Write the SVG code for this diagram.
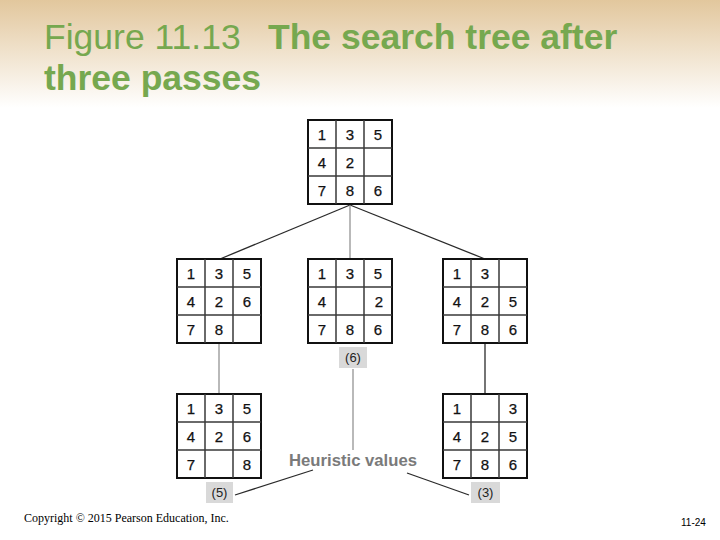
<svg xmlns="http://www.w3.org/2000/svg" width="720" height="540" viewBox="0 0 720 540">
  <defs>
    <linearGradient id="bg" x1="0" y1="0" x2="0" y2="540" gradientUnits="userSpaceOnUse">
      <stop offset="0" stop-color="#e2c79d"/>
      <stop offset="0.2" stop-color="#ffffff"/>
      <stop offset="1" stop-color="#ffffff"/>
    </linearGradient>
    <g id="grid">
      <rect x="0" y="0" width="84" height="84" fill="#ffffff" stroke="#111" stroke-width="2"/>
      <path d="M28 0V84M56 0V84M0 28H84M0 56H84" stroke="#3a3a3a" stroke-width="1.5" fill="none"/>
    </g>
  </defs>
  <style>
    .title { font-family: "Liberation Sans", Arial, sans-serif; font-size: 35.5px; fill: #76a84f; }
    .b { font-weight: bold; }
    .num { font-family: "Liberation Sans", Arial, sans-serif; font-size: 15px; fill: #111; text-anchor: middle; stroke: #111; stroke-width: 0.25; }
    .lbl { font-family: "Liberation Sans", Arial, sans-serif; font-size: 13px; fill: #222; text-anchor: middle; }
    .lblbox { fill: #d9d9d9; }
    .heur { font-family: "Liberation Sans", Arial, sans-serif; font-size: 16.7px; font-weight: bold; fill: #7a7a7a; }
    .copy { font-family: "Liberation Serif", "Times New Roman", serif; font-size: 12px; fill: #000; }
    .page { font-family: "Liberation Sans", Arial, sans-serif; font-size: 10px; fill: #000; }
    .dark { stroke: #2a2a2a; stroke-width: 1.3; fill: none; }
    .light { stroke: #8a8a8a; stroke-width: 1.2; fill: none; }
  </style>
  <rect x="0" y="0" width="720" height="540" fill="url(#bg)"/>

  <g id="title">
    <text class="title" x="44" y="49">Figure 11.13</text>
    <text class="title b" x="268" y="49">The search tree after</text>
    <text class="title b" x="44" y="90">three passes</text>
  </g>

  <g id="connectors">
    <line class="dark" x1="350" y1="205" x2="220" y2="259"/>
    <line class="dark" x1="350" y1="205" x2="485" y2="259"/>
    <line class="light" x1="350" y1="205" x2="350" y2="259"/>
    <line class="light" x1="219" y1="343" x2="219" y2="394"/>
    <line class="dark" x1="485" y1="343" x2="485" y2="394"/>
    <line class="light" x1="353" y1="369" x2="353" y2="450"/>
    <line class="dark" x1="235" y1="495" x2="313" y2="470"/>
    <line class="dark" x1="407" y1="473" x2="469" y2="495"/>
  </g>

  <g id="root" transform="translate(308,120)">
    <use href="#grid"/>
    <text class="num" x="14" y="19.5">1</text><text class="num" x="42" y="19.5">3</text><text class="num" x="70" y="19.5">5</text>
    <text class="num" x="14" y="47.5">4</text><text class="num" x="42" y="47.5">2</text>
    <text class="num" x="14" y="75.5">7</text><text class="num" x="42" y="75.5">8</text><text class="num" x="70" y="75.5">6</text>
  </g>

  <g id="mid-left" transform="translate(177,259)">
    <use href="#grid"/>
    <text class="num" x="14" y="19.5">1</text><text class="num" x="42" y="19.5">3</text><text class="num" x="70" y="19.5">5</text>
    <text class="num" x="14" y="47.5">4</text><text class="num" x="42" y="47.5">2</text><text class="num" x="70" y="47.5">6</text>
    <text class="num" x="14" y="75.5">7</text><text class="num" x="42" y="75.5">8</text>
  </g>

  <g id="mid-center" transform="translate(308,259)">
    <use href="#grid"/>
    <text class="num" x="14" y="19.5">1</text><text class="num" x="42" y="19.5">3</text><text class="num" x="70" y="19.5">5</text>
    <text class="num" x="14" y="47.5">4</text><text class="num" x="71" y="47.5">2</text>
    <text class="num" x="14" y="75.5">7</text><text class="num" x="42" y="75.5">8</text><text class="num" x="70" y="75.5">6</text>
  </g>

  <g id="mid-right" transform="translate(443,259)">
    <use href="#grid"/>
    <text class="num" x="14" y="19.5">1</text><text class="num" x="42" y="19.5">3</text>
    <text class="num" x="14" y="47.5">4</text><text class="num" x="42" y="47.5">2</text><text class="num" x="70" y="47.5">5</text>
    <text class="num" x="14" y="75.5">7</text><text class="num" x="42" y="75.5">8</text><text class="num" x="70" y="75.5">6</text>
  </g>

  <g id="bottom-left" transform="translate(177,394)">
    <use href="#grid"/>
    <text class="num" x="14" y="19.5">1</text><text class="num" x="42" y="19.5">3</text><text class="num" x="70" y="19.5">5</text>
    <text class="num" x="14" y="47.5">4</text><text class="num" x="42" y="47.5">2</text><text class="num" x="70" y="47.5">6</text>
    <text class="num" x="14" y="75.5">7</text><text class="num" x="70" y="75.5">8</text>
  </g>

  <g id="bottom-right" transform="translate(443,394)">
    <use href="#grid"/>
    <text class="num" x="14" y="19.5">1</text><text class="num" x="70" y="19.5">3</text>
    <text class="num" x="14" y="47.5">4</text><text class="num" x="42" y="47.5">2</text><text class="num" x="70" y="47.5">5</text>
    <text class="num" x="14" y="75.5">7</text><text class="num" x="42" y="75.5">8</text><text class="num" x="70" y="75.5">6</text>
  </g>

  <g id="label-6">
    <rect class="lblbox" x="339" y="347" width="28" height="21"/>
    <text class="lbl" x="353" y="362">(6)</text>
  </g>
  <g id="label-5">
    <rect class="lblbox" x="206" y="482" width="27" height="21"/>
    <text class="lbl" x="219.5" y="497">(5)</text>
  </g>
  <g id="label-3">
    <rect class="lblbox" x="471" y="482" width="29" height="21"/>
    <text class="lbl" x="485.5" y="497">(3)</text>
  </g>

  <g id="heuristic">
    <text class="heur" x="289" y="466">Heuristic values</text>
  </g>

  <g id="footer">
    <text class="copy" x="24" y="522">Copyright © 2015 Pearson Education, Inc.</text>
    <text class="page" x="681" y="526">11-24</text>
  </g>
</svg>
